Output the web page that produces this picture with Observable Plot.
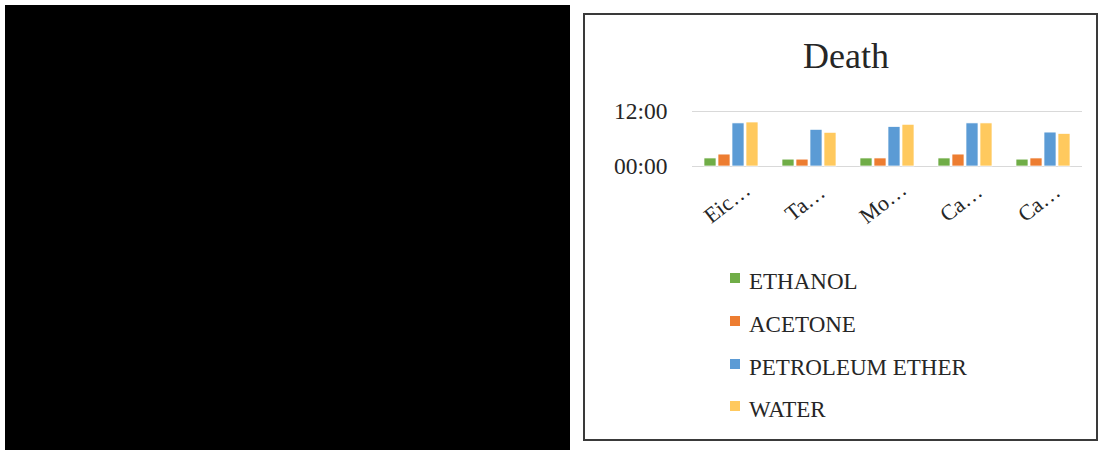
<!DOCTYPE html>
<html>
<head>
<meta charset="utf-8">
<script src="https://cdn.jsdelivr.net/npm/d3@7"></script>
<script src="https://cdn.jsdelivr.net/npm/@observablehq/plot@0.6"></script>
<style>
  html, body { margin: 0; padding: 0; background: #fff; width: 1101px; height: 450px; overflow: hidden; }
  .abs { position: absolute; }
  #black { left: 5px; top: 5px; width: 565px; height: 445px; background: #000; }
  #panel { left: 583px; top: 13px; width: 515px; height: 428px; border: 2px solid #3a3a3a; box-sizing: border-box; }
  #title { left: 746px; top: 38px; width: 200px; text-align: center; font: 36px/36px "Liberation Serif", serif; color: #262626; }
  #chart { left: 590px; top: 90px; }
  .lg { position: absolute; left: 730px; font: 23px/23px "Liberation Serif", serif; color: #262626; white-space: nowrap; }
  .lg span.sw { position: absolute; left: 0; top: 3px; width: 10px; height: 10px; }
  .lg span.tx { position: absolute; left: 19px; top: 0; }
</style>
</head>
<body>
<div id="black" class="abs"></div>
<div id="panel" class="abs"></div>
<div id="title" class="abs">Death</div>
<div id="chart" class="abs"></div>
<div id="legend"></div>
<script>
// ---- data ----
const categories = ["Eic", "Ta", "Mo", "Ca1", "Ca2"];
const categoryLabels = ["Eic…", "Ta…", "Mo…", "Ca…", "Ca…"];
const series = ["ETHANOL", "ACETONE", "PETROLEUM ETHER", "WATER"];
const colors = ["#70AD47", "#ED7D31", "#5B9BD5", "#FFC95E"];
// death time in hours, per series, one value per category
const ethanol   = [1.75, 1.5, 1.75, 1.75, 1.5];
const acetone   = [2.6, 1.5, 1.75, 2.6, 1.75];
const petroleum = [9.4, 8.0, 8.6, 9.4, 7.4];
const water     = [9.6, 7.35, 9.1, 9.4, 7.1];
const yTicks = [0, 12];
const yTickLabels = ["00:00", "12:00"];

const seriesValues = [ethanol, acetone, petroleum, water];
const rows = [];
categories.forEach((c, ci) => {
  series.forEach((s, si) => rows.push({category: c, series: s, value: seriesValues[si][ci]}));
});

const font = "Liberation Serif, Times New Roman, serif";
const chart = Plot.plot({
  width: 505,
  height: 150,
  marginLeft: 102,
  marginRight: 13,
  marginTop: 21,
  marginBottom: 74,
  style: {fontFamily: font, background: "transparent", color: "#262626"},
  fx: {domain: categories, paddingInner: 0, paddingOuter: 0, axis: null},
  x: {domain: series, paddingInner: 0.14, paddingOuter: 0.855, axis: null},
  y: {domain: [0, 12], axis: null},
  color: {domain: series, range: colors},
  marks: [
    Plot.gridY(yTicks, {stroke: "#d9d9d9", strokeOpacity: 1, strokeWidth: 1}),
    Plot.barY(rows, {fx: "category", x: "series", y: "value", fill: "series", stroke: "white", strokeWidth: 0.7}),
    Plot.axisY(yTicks, {tickSize: 0, tickPadding: 25, fontSize: 23.5, fill: "#262626", label: null,
      tickFormat: d => yTickLabels[yTicks.indexOf(d)]}),
    Plot.text(categories, {fx: d => d, frameAnchor: "bottom", dy: 42, rotate: -38,
      text: d => categoryLabels[categories.indexOf(d)], fontSize: 22, fill: "#262626", textAnchor: "middle"})
  ]
});
document.getElementById("chart").appendChild(chart);

// ---- legend ----
const legend = document.getElementById("legend");
const rowTops = [270, 313, 356, 398];
series.forEach((s, i) => {
  const row = document.createElement("div");
  row.className = "lg";
  row.style.top = rowTops[i] + "px";
  const sw = document.createElement("span");
  sw.className = "sw";
  sw.style.background = colors[i];
  const tx = document.createElement("span");
  tx.className = "tx";
  tx.textContent = s;
  row.appendChild(sw);
  row.appendChild(tx);
  legend.appendChild(row);
});
</script>
</body>
</html>
